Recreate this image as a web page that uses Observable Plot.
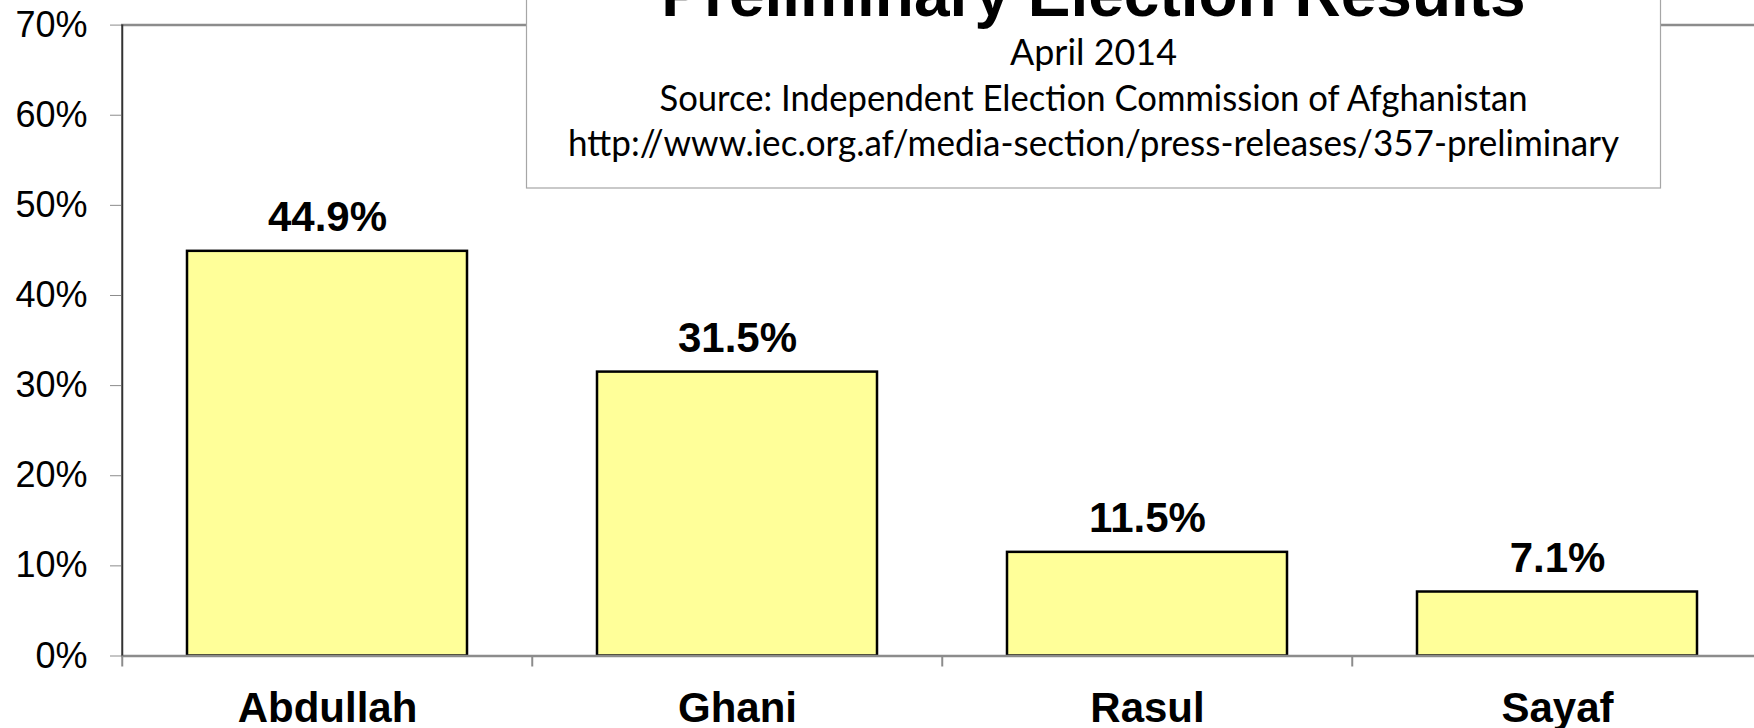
<!DOCTYPE html>
<html><head><meta charset="utf-8">
<script src="https://cdn.jsdelivr.net/npm/d3@7"></script>
<script src="https://cdn.jsdelivr.net/npm/@observablehq/plot@0.6"></script>
<style>
body{margin:0;background:#fff;}
#wrap{position:relative;width:1754px;height:728px;overflow:hidden;}
#overlay{position:absolute;left:0;top:0;}
</style></head><body><div id="wrap"><div id="chart"></div></div>
<script>
const candidates = ["Abdullah","Ghani","Rasul","Sayaf"];
const shares = [44.9, 31.5, 11.5, 7.1];
const yTicks = [0,10,20,30,40,50,60,70];
const titleText = "Preliminary Election Results";
const subtitleLines = ["April 2014","Source: Independent Election Commission of Afghanistan","http://www.iec.org.af/media-section/press-releases/357-preliminary"];

const data = candidates.map((c,i)=>({candidate:c, share:shares[i]}));
const STEP = 410.5;
const grey = "#8c8c8c";
const plot = Plot.plot({
  width:1754, height:728, marginLeft:121, marginTop:24.6, marginBottom:72.5, marginRight:0,
  style:{fontFamily:"'Liberation Sans', Arial, sans-serif", background:"#fff", color:"#000", overflow:"visible"},
  x:{domain:candidates, range:[121,1763], paddingInner:0.318, paddingOuter:0.159, align:0.5, label:null},
  y:{domain:[0,70], label:null},
  marks:[
    Plot.barY(data,{x:"candidate", y:"share", fill:"#FFFF99", stroke:"#000", strokeWidth:2.5}),
    Plot.ruleY([0], {stroke:grey, strokeWidth:2.5}),
    Plot.ruleY([70], {stroke:grey, strokeWidth:2.5}),
    Plot.ruleX(candidates, {x:d=>d, dx:-STEP/2, y1:0, y2:0, insetBottom:-11, stroke:grey, strokeWidth:2}),
    Plot.ruleX([candidates[0]], {x:d=>d, dx:-STEP/2, y1:0, y2:70, stroke:"#333", strokeWidth:2}),
    Plot.axisY({ticks:yTicks, tickFormat:d=>d+"%", tickSize:11, tickPadding:23, fontSize:36, stroke:grey, fill:"#000", label:null}),
    Plot.axisX({tickSize:0, tickPadding:36, fontSize:42, fontWeight:"bold", fill:"#000", label:null}),
    Plot.text(data,{x:"candidate", y:"share", text:d=>d.share.toFixed(1)+"%", dy:-20, lineAnchor:"bottom", fontSize:42, fontWeight:"bold", fill:"#000"})
  ]
});
document.getElementById("chart").appendChild(plot);

// Title box overlay
const svg = d3.select("#wrap").append("svg").attr("id","overlay").attr("width",1754).attr("height",728);
svg.append("rect").attr("x",526.5).attr("y",-20).attr("width",1134).attr("height",208)
  .attr("fill","#fff").attr("stroke","#a6a6a6").attr("stroke-width",1.2);
const cx = 1093.5;
svg.append("text").attr("x",cx).attr("y",15.5).attr("text-anchor","middle")
  .attr("font-family","'Liberation Sans', Arial, sans-serif").attr("font-weight","bold").attr("font-size",64)
  .text(titleText);
const baselines = [65, 111, 155.5];
const widths = [167, 868, 1051];
subtitleLines.forEach((t,i)=>{
  svg.append("text").attr("x",cx).attr("y",baselines[i]).attr("text-anchor","middle")
    .attr("font-family","Lato, 'Open Sans', sans-serif").attr("font-size",36)
    .attr("textLength",widths[i]).attr("lengthAdjust","spacingAndGlyphs")
    .text(t);
});
</script></body></html>
